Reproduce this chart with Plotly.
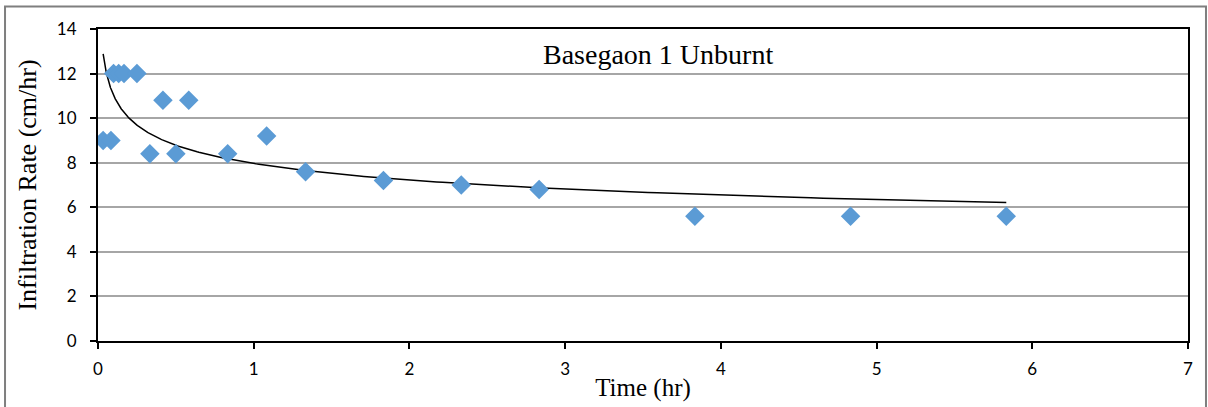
import numpy as np
import plotly.graph_objects as go

# Data
time_hr = [0.033, 0.083, 0.1, 0.133, 0.167, 0.25, 0.333, 0.417, 0.5, 0.583,
           0.833, 1.083, 1.333, 1.833, 2.333, 2.833, 3.833, 4.833, 5.833]
rate_cm_hr = [9, 9, 12, 12, 12, 12, 8.4, 10.8, 8.4, 10.8,
              8.4, 9.2, 7.6, 7.2, 7.0, 6.8, 5.6, 5.6, 5.6]
x_ticks = [0, 1, 2, 3, 4, 5, 6, 7]
y_ticks = [0, 2, 4, 6, 8, 10, 12, 14]
chart_title = "Basegaon 1 Unburnt"

# Power trendline (least squares on log-log, as spreadsheet does)
lx = np.log(np.array(time_hr))
ly = np.log(np.array(rate_cm_hr))
b, ln_a = np.polyfit(lx, ly, 1)
a = np.exp(ln_a)
tx = np.geomspace(min(time_hr), max(time_hr), 300)
ty = a * tx ** b

fig = go.Figure()
fig.add_trace(go.Scatter(x=tx, y=ty, mode="lines",
                         line=dict(color="black", width=1.5),
                         showlegend=False, hoverinfo="skip"))
fig.add_trace(go.Scatter(x=time_hr, y=rate_cm_hr, mode="markers",
                         marker=dict(symbol="diamond", size=15, color="#5B9BD5",
                                     line=dict(width=0)),
                         showlegend=False))

tick_font = dict(family="Lato, Open Sans, sans-serif", size=17, color="black")
serif = "Liberation Serif, Times New Roman, serif"

fig.update_layout(
    width=1208, height=407,
    margin=dict(l=98, r=20, t=29, b=66),
    paper_bgcolor="white", plot_bgcolor="white",
    xaxis=dict(range=[0, 7], tickvals=x_ticks, showgrid=False, zeroline=False,
               showline=True, linecolor="black", linewidth=2, mirror=True,
               ticks="outside", ticklen=6, tickwidth=1.5, tickcolor="black",
               tickfont=tick_font, ticklabelstandoff=6,
               title=dict(text="Time (hr)", font=dict(family=serif, size=25, color="black"),
                          standoff=0),
               automargin=False),
    yaxis=dict(range=[0, 14], tickvals=y_ticks, showgrid=True, gridcolor="#A6A6A6",
               gridwidth=1.5, zeroline=False,
               showline=True, linecolor="black", linewidth=2, mirror=True,
               ticks="outside", ticklen=6, tickwidth=1.5, tickcolor="black",
               tickfont=tick_font, ticklabelstandoff=10,
               title=dict(text="Infiltration Rate (cm/hr)",
                          font=dict(family=serif, size=26, color="black"), standoff=13),
               automargin=False),
    annotations=[dict(text=chart_title, xref="paper", yref="paper",
                      x=0.514, y=0.917, xanchor="center", yanchor="middle",
                      showarrow=False,
                      font=dict(family=serif, size=28, color="black"))],
    shapes=[dict(type="rect", xref="paper", yref="paper",
                 x0=-0.0853, x1=1.0165, y0=-0.25, y1=1.072,
                 line=dict(color="#7F7F7F", width=2), layer="below")],
)

fig.write_html("out.html")
